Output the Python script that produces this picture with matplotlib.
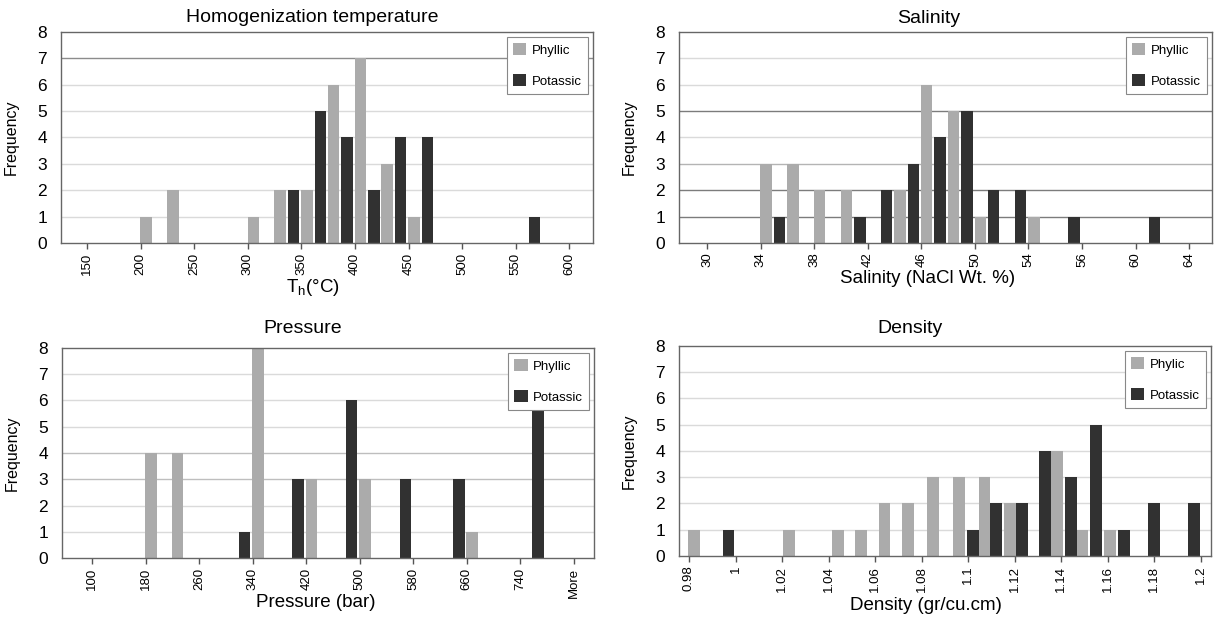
# -*- coding: UTF-8 -*-
import matplotlib
matplotlib.use('Agg')
import matplotlib.pyplot as plt

################################################################################
# fluid inclusion histograms: phyllic vs potassic
################################################################################

plt.rcParams['font.family'] = ['Liberation Sans', 'DejaVu Sans']
plt.rcParams['mathtext.default'] = 'regular'

# Homogenization temperature (deg C)
temp_ticks = [150, 200, 250, 300, 350, 400, 450, 500, 550, 600]
temp_labels = ['150', '200', '250', '300', '350', '400', '450', '500', '550', '600']
temp_phyllic_x = [205, 230, 305, 330, 355, 380, 405, 430, 455]
temp_phyllic_n = [1, 2, 1, 2, 2, 6, 7, 3, 1]
temp_potassic_x = [342.5, 367.5, 392.5, 417.5, 442.5, 467.5, 567.5]
temp_potassic_n = [2, 5, 4, 2, 4, 4, 1]

# Salinity (NaCl wt. %), tick labels as printed on the original
sal_ticks = [30, 34, 38, 42, 46, 50, 54, 58, 62, 66]
sal_labels = ['30', '34', '38', '42', '46', '50', '54', '56', '60', '64']
sal_phyllic_x = [34.4, 36.4, 38.4, 40.4, 44.4, 46.4, 48.4, 50.4, 54.4]
sal_phyllic_n = [3, 3, 2, 2, 2, 6, 5, 1, 1]
sal_potassic_x = [35.4, 41.4, 43.4, 45.4, 47.4, 49.4, 51.4, 53.4, 57.4, 63.4]
sal_potassic_n = [1, 1, 2, 3, 4, 5, 2, 2, 1, 1]

# Pressure (bar)
pres_ticks = [100, 180, 260, 340, 420, 500, 580, 660, 740, 820]
pres_labels = ['100', '180', '260', '340', '420', '500', '580', '660', '740', 'More']
pres_phyllic_x = [188, 228, 348, 428, 508, 668]
pres_phyllic_n = [4, 4, 8, 3, 3, 1]
pres_potassic_x = [328, 408, 488, 568, 648, 766]
pres_potassic_n = [1, 3, 6, 3, 3, 6]

# Density (gr/cu.cm)
dens_ticks = [0.98, 1.0, 1.02, 1.04, 1.06, 1.08, 1.1, 1.12, 1.14, 1.16, 1.18, 1.2]
dens_labels = ['0.98', '1', '1.02', '1.04', '1.06', '1.08', '1.1', '1.12', '1.14', '1.16', '1.18', '1.2']
dens_phyllic_x = [0.982, 1.023, 1.044, 1.054, 1.064, 1.074, 1.085, 1.096, 1.107, 1.118, 1.138, 1.149, 1.161]
dens_phyllic_n = [1, 1, 1, 1, 2, 2, 3, 3, 3, 2, 4, 1, 1]
dens_potassic_x = [0.997, 1.102, 1.112, 1.123, 1.133, 1.144, 1.155, 1.167, 1.180, 1.197]
dens_potassic_n = [1, 1, 2, 2, 4, 3, 5, 1, 2, 2]

LIGHT = '#ababab'
DARK = '#313131'


def draw(ax, title, title_x, title_pad, xlabel, xlabel_x, xlabel_y, ticks, labels, xlim,
         px, pn, kx, kn, width, plabel='Phyllic', grid_dark=None):
    ax.set_xlim(xlim)
    ax.set_ylim(0, 8)
    grid_dark = grid_dark or {}
    for y in range(1, 8):
        ax.axhline(y, color=grid_dark.get(y, '#dadada'), lw=1.0, zorder=0)
    ax.bar(px, pn, width, color=LIGHT, label=plabel, zorder=2)
    ax.bar(kx, kn, width, color=DARK, label='Potassic', zorder=2)

    ax.set_xticks(ticks)
    ax.set_xticklabels(labels, rotation=90, fontsize=9.5)
    ax.set_yticks(range(0, 9))
    ax.tick_params(axis='x', length=4, width=1, color='#555555', pad=3)
    ax.tick_params(axis='y', length=0, labelsize=12.5, pad=10)
    for s in ax.spines.values():
        s.set_color('#666666')
        s.set_linewidth(1.0)

    ax.set_title(title, fontsize=14, x=title_x, pad=title_pad)
    ax.set_xlabel(xlabel, fontsize=13.5)
    ax.xaxis.set_label_coords(xlabel_x, xlabel_y)
    ax.set_ylabel('Frequency', fontsize=11.5)
    ax.yaxis.set_label_coords(-0.080, 0.5)

    leg = ax.legend(loc='upper right', fontsize=9.5, fancybox=False, framealpha=1,
                    edgecolor='#888888', handlelength=1.0, handleheight=1.0,
                    handletextpad=0.4, labelspacing=1.35, borderpad=0.5,
                    borderaxespad=0.35)
    leg.get_frame().set_linewidth(0.8)


fig = plt.figure(figsize=(12.19, 6.17), dpi=100)
ax1 = fig.add_axes([0.0500, 0.6062, 0.4364, 0.3420])
ax2 = fig.add_axes([0.5570, 0.6062, 0.4372, 0.3420])
ax3 = fig.add_axes([0.0509, 0.0956, 0.4364, 0.3404])
ax4 = fig.add_axes([0.5570, 0.0989, 0.4364, 0.3404])

draw(ax1, 'Homogenization temperature', 0.472, 7, r'T$_h$(°C)', 0.474, -0.16,
     temp_ticks, temp_labels, (125.5, 622),
     temp_phyllic_x, temp_phyllic_n, temp_potassic_x, temp_potassic_n, 10.7,
     grid_dark={7: '#8c8c8c'})

draw(ax2, 'Salinity', 0.468, 6.5, 'Salinity (NaCl Wt. %)', 0.467, -0.128,
     sal_ticks, sal_labels, (27.9, 67.7),
     sal_phyllic_x, sal_phyllic_n, sal_potassic_x, sal_potassic_n, 0.86,
     grid_dark={5: '#7c7c7c', 2: '#7c7c7c', 1: '#7c7c7c', 3: '#b4b4b4'})

draw(ax3, 'Pressure', 0.453, 11, 'Pressure (bar)', 0.476, -0.172,
     pres_ticks, pres_labels, (55.2, 850),
     pres_phyllic_x, pres_phyllic_n, pres_potassic_x, pres_potassic_n, 17.2,
     grid_dark={4: '#bebebe', 3: '#bebebe'})

draw(ax4, 'Density', 0.434, 9.5, 'Density (gr/cu.cm)', 0.465, -0.195,
     dens_ticks, dens_labels, (0.9757, 1.2043),
     dens_phyllic_x, dens_phyllic_n, dens_potassic_x, dens_potassic_n, 0.0051,
     plabel='Phylic')

plt.savefig('out.png', dpi=100)
plt.close()
